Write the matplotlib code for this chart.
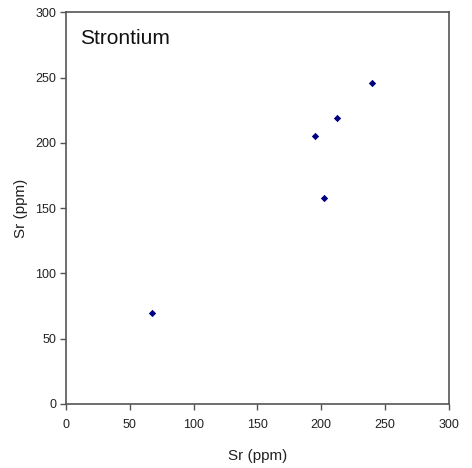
import matplotlib
matplotlib.use("Agg")
import matplotlib.pyplot as plt

plt.rcParams['font.family'] = ['Liberation Sans', 'DejaVu Sans']

sr_x = [67.3, 195.1, 202.1, 212.1, 240.1]
sr_y = [69.7, 205.4, 157.9, 218.9, 245.7]
ticks = [0, 50, 100, 150, 200, 250, 300]

fig = plt.figure(figsize=(4.72, 4.68), dpi=100)
ax = fig.add_axes([0.1398, 0.1368, 0.8108, 0.8365])

ax.scatter(sr_x, sr_y, marker='D', s=14, color='#000080', linewidths=0, zorder=3)

ax.set_xlim(0, 300)
ax.set_ylim(0, 300)
ax.set_xticks(ticks)
ax.set_yticks(ticks)
ax.tick_params(direction='out', length=4, width=1, color='#555555',
               labelsize=9, labelcolor='#222222')
ax.tick_params(axis='x', pad=7)
ax.tick_params(axis='y', pad=3)
ax.tick_params(top=False, right=False)
for s in ax.spines.values():
    s.set_color('#555555')
    s.set_linewidth(1.2)

ax.set_xlabel('Sr (ppm)', fontsize=11, color='#222222', labelpad=13)
ax.set_ylabel('Sr (ppm)', fontsize=11, color='#222222', labelpad=5)
ax.text(0.0366, 0.9195, 'Strontium', transform=ax.transAxes, fontsize=15,
        color='#111111', va='baseline', ha='left')

fig.savefig('out.png', dpi=100)
